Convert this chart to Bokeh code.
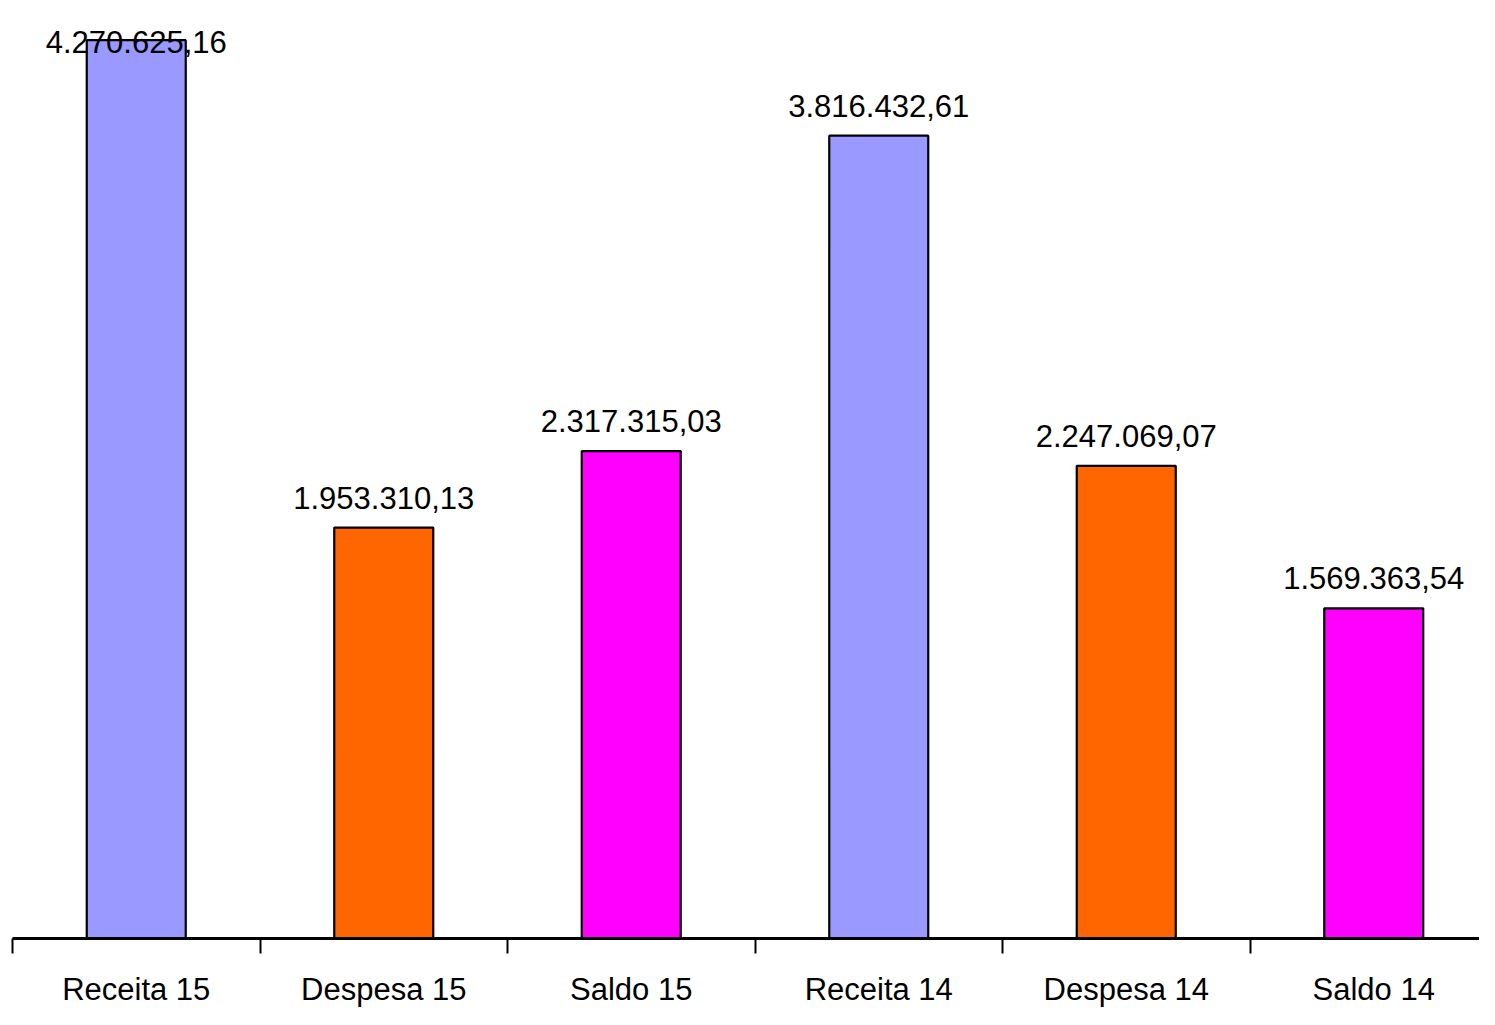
import numpy as np
from bokeh.plotting import figure
from bokeh.models import Range1d, FixedTicker, ColumnDataSource
from bokeh.core.properties import value
from bokeh.embed import file_html
from bokeh.resources import INLINE

categories = ["Receita 15", "Despesa 15", "Saldo 15", "Receita 14", "Despesa 14", "Saldo 14"]
values = [4270625.16, 1953310.13, 2317315.03, 3816432.61, 2247069.07, 1569363.54]
labels = ["4.270.625,16", "1.953.310,13", "2.317.315,03", "3.816.432,61", "2.247.069,07", "1.569.363,54"]
colors = ["#9999FF", "#FF6600", "#FF00FF", "#9999FF", "#FF6600", "#FF00FF"]

FONT = "Liberation Sans"
W, H = 1479, 1009
ML, MB = 12, 69
frame_h = H - MB
frame_w = W - ML
cat_px = 247.5
y_end = 4.459e6
px = frame_h / y_end  # pixels per unit

x = np.arange(len(categories)) + 0.5
gap_px, top_px = 30, 42
label_y = [min(v + gap_px / px, y_end - top_px / px) for v in values]

src = ColumnDataSource(dict(x=x, top=values, color=colors, ly=label_y, lab=labels))

p = figure(width=W, height=H, output_backend="svg", toolbar_location=None,
           x_range=Range1d(0, frame_w / cat_px), y_range=Range1d(0, y_end),
           min_border_left=ML, min_border_right=0, min_border_top=0, min_border_bottom=MB,
           x_axis_location="below", y_axis_location=None)
p.outline_line_color = None
p.grid.visible = False
p.background_fill_color = "white"

p.vbar(x="x", top="top", width=0.4, bottom=0, fill_color="color",
       line_color="black", line_width=2.2, source=src)
p.text(x="x", y="ly", text="lab", source=src, text_align="center",
       text_baseline="alphabetic", text_font=value(FONT), text_font_size="31px",
       text_color="black")

ax = p.xaxis[0]
ax.ticker = FixedTicker(ticks=list(x), minor_ticks=list(range(len(categories) + 1)))
ax.major_label_overrides = {float(xi): c for xi, c in zip(x, categories)}
ax.major_tick_line_color = None
ax.major_tick_out = 0
ax.major_tick_in = 0
ax.minor_tick_line_color = "black"
ax.minor_tick_line_width = 2
ax.minor_tick_out = 15
ax.minor_tick_in = 0
ax.axis_line_color = "black"
ax.axis_line_width = 3
ax.major_label_standoff = 18
ax.major_label_text_font = FONT
ax.major_label_text_font_size = "31px"
ax.major_label_text_color = "black"

open("out.html", "w").write(file_html(p, INLINE))
